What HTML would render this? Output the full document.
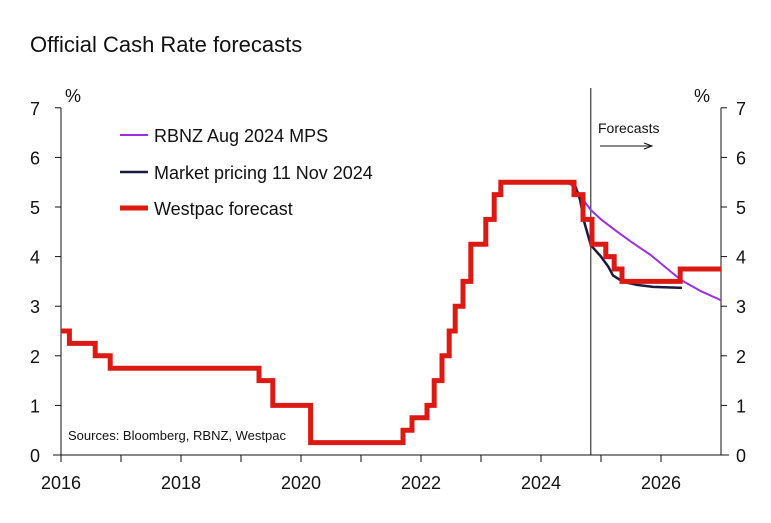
<!DOCTYPE html>
<html><head><meta charset="utf-8"><style>
body{margin:0;background:#fff;font-family:"Liberation Sans",sans-serif}
svg text{font-family:"Liberation Sans",sans-serif}
</style></head><body>
<svg width="771" height="518" xmlns="http://www.w3.org/2000/svg">
<text x="30" y="52" font-size="22" fill="#111">Official Cash Rate forecasts</text>
<g id="axes"></g>
<g id="series"></g>
<g>
<line x1="120" y1="135" x2="148" y2="135" stroke="#9b30e0" stroke-width="2"/>
<text x="154" y="142" font-size="18" fill="#111">RBNZ Aug 2024 MPS</text>
<line x1="120" y1="172" x2="148" y2="172" stroke="#1a1a40" stroke-width="2.5"/>
<text x="154" y="179" font-size="18" fill="#111">Market pricing 11 Nov 2024</text>
<line x1="120" y1="208" x2="148" y2="208" stroke="#dc1a14" stroke-width="5"/>
<text x="154" y="215" font-size="18" fill="#111">Westpac forecast</text>
</g>
<text x="68" y="440" font-size="13" fill="#111">Sources: Bloomberg, RBNZ, Westpac</text>
<text x="598" y="133" font-size="14" fill="#111">Forecasts</text>
<g><line x1="600" y1="146" x2="650" y2="146" stroke="#111" stroke-width="1"/><path d="M644,143 L652,146 L644,149" fill="none" stroke="#111" stroke-width="1"/></g>
</svg>
<script>
const yTicks=[0,1,2,3,4,5,6,7];
const xTickYears=[2016,2017,2018,2019,2020,2021,2022,2023,2024,2025,2026];
const xLabels=[2016,2018,2020,2022,2024,2026];
const forecastStart=2024.83;
const westpacYears=[2016,2016.14,2016.57,2016.82,2019.3,2019.53,2020.16,2021.7,2021.85,2022.1,2022.22,2022.35,2022.47,2022.57,2022.7,2022.83,2023.08,2023.22,2023.33,2024.55,2024.7,2024.85,2025.08,2025.22,2025.35,2026.32];
const westpacRates=[2.5,2.25,2.0,1.75,1.5,1.0,0.25,0.5,0.75,1.0,1.5,2.0,2.5,3.0,3.5,4.25,4.75,5.25,5.5,5.25,4.75,4.25,4.0,3.75,3.5,3.75];
const rbnzYears=[2024.4,2024.5,2024.6,2024.7,2024.83,2025.0,2025.25,2025.5,2025.83,2026.1,2026.33,2026.67,2027.0];
const rbnzRates=[5.5,5.45,5.33,5.15,4.94,4.75,4.52,4.3,4.03,3.76,3.53,3.3,3.12];
const mktYears=[2024.55,2024.65,2024.72,2024.83,2025.0,2025.12,2025.2,2025.37,2025.6,2025.87,2026.35];
const mktRates=[5.5,5.15,4.7,4.23,4.0,3.8,3.62,3.49,3.43,3.39,3.37];
const X0=61,PXY=60,Y0=455,PXU=49.6,XEND=2027;
const sx=y=>X0+(y-2016)*PXY, sy=v=>Y0-v*PXU;
const NS="http://www.w3.org/2000/svg";
function mk(tag,attrs,parent){const e=document.createElementNS(NS,tag);for(const k in attrs)e.setAttribute(k,attrs[k]);parent.appendChild(e);return e;}
const ax=document.getElementById('axes'),se=document.getElementById('series');
const L=sx(2016),R=sx(XEND);
let e=mk('line',{x1:L,y1:sy(7),x2:L,y2:Y0,stroke:'#111'},ax);

e=mk('line',{x1:R,y1:sy(7),x2:R,y2:Y0,stroke:'#111'},ax);

e=mk('line',{x1:L-8,y1:Y0,x2:R+8,y2:Y0,stroke:'#111'},ax);

yTicks.forEach(v=>{
 mk('line',{x1:L-6,y1:sy(v),x2:L,y2:sy(v),stroke:'#111'},ax);
 mk('line',{x1:R,y1:sy(v),x2:R+6,y2:sy(v),stroke:'#111'},ax);
 let t=mk('text',{x:40,y:sy(v)+7,'font-size':18,'text-anchor':'end',fill:'#111'},ax);t.textContent=v;
 
 t=mk('text',{x:736,y:sy(v)+7,'font-size':18,fill:'#111'},ax);t.textContent=v;
 
});
let p=mk('text',{x:65,y:102,'font-size':18,fill:'#111'},ax);p.textContent='%';

p=mk('text',{x:694,y:102,'font-size':18,fill:'#111'},ax);p.textContent='%';

xTickYears.forEach(y=>mk('line',{x1:sx(y),y1:Y0,x2:sx(y),y2:Y0+7,stroke:'#111'},ax));
xLabels.forEach(y=>{const t=mk('text',{x:sx(y),y:489,'font-size':18,'text-anchor':'middle',fill:'#111'},ax);t.textContent=y;
 });
e=mk('line',{x1:sx(forecastStart),y1:sy(7.4),x2:sx(forecastStart),y2:Y0,stroke:'#111'},ax);

function poly(xs,ys){return xs.map((x,i)=>sx(x)+','+sy(ys[i])).join(' ');}
e=mk('polyline',{points:poly(rbnzYears,rbnzRates),fill:'none',stroke:'#9b30e0','stroke-width':2,'stroke-linejoin':'round'},se);

e=mk('polyline',{points:poly(mktYears,mktRates),fill:'none',stroke:'#1a1a40','stroke-width':2.5,'stroke-linejoin':'round'},se);

let d='';westpacYears.forEach((y,i)=>{const nx=i+1<westpacYears.length?westpacYears[i+1]:XEND;
 d+=(i?'L':'M')+sx(y)+','+sy(westpacRates[i])+'L'+sx(nx)+','+sy(westpacRates[i]);});
e=mk('path',{d:d,fill:'none',stroke:'#dc1a14','stroke-width':5,'stroke-linejoin':'miter'},se);

</script>
</body></html>
